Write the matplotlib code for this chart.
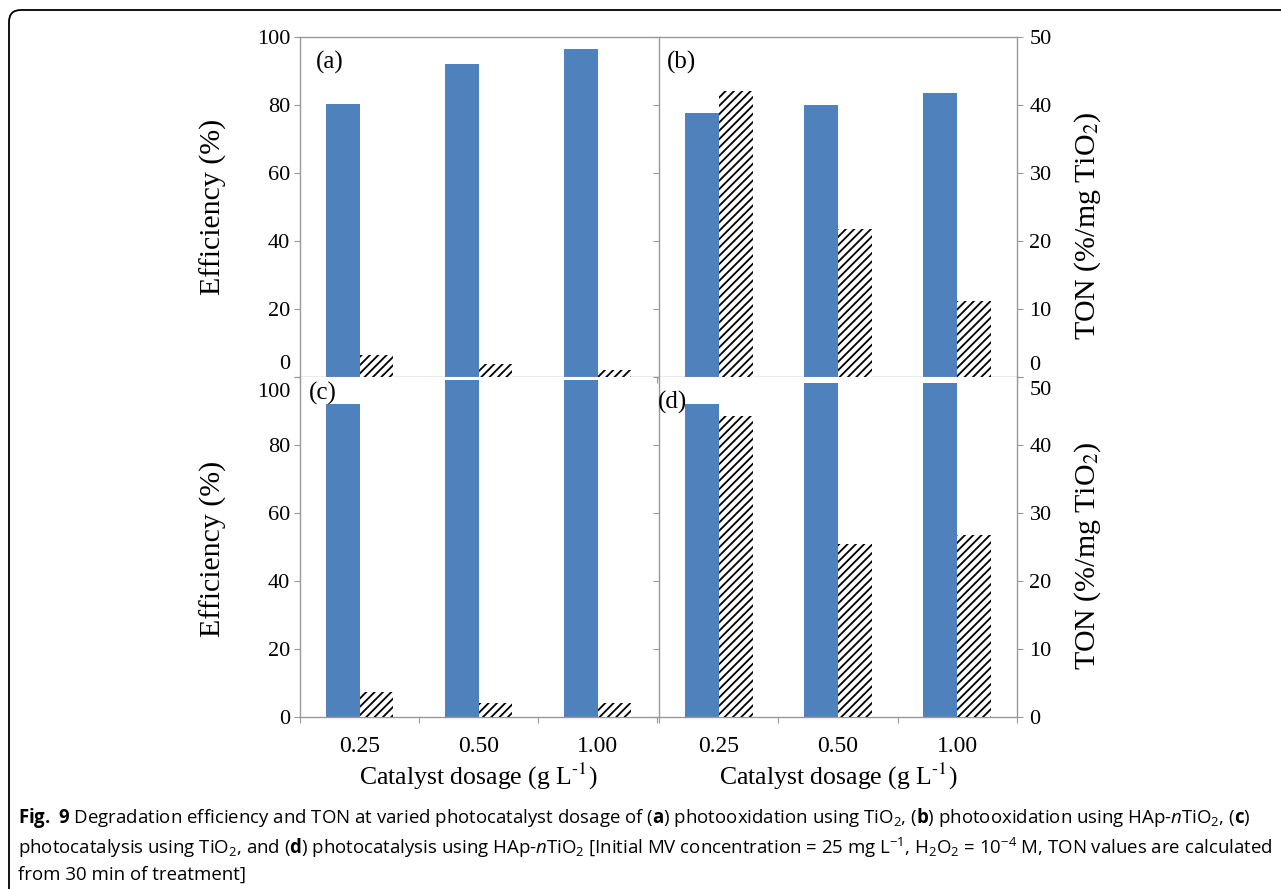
import numpy as np
import matplotlib.pyplot as plt
from matplotlib.patches import FancyBboxPatch
from matplotlib.transforms import ScaledTranslation, IdentityTransform

plt.rcParams['font.family'] = ['Liberation Serif', 'DejaVu Serif']
plt.rcParams['hatch.linewidth'] = 1.3
plt.rcParams['mathtext.rm'] = 'Open Sans'
plt.rcParams['mathtext.it'] = 'Open Sans:italic'
plt.rcParams['mathtext.bf'] = 'Open Sans:bold'

# catalyst dosage (g/L) and results for each panel
dosage = ['0.25', '0.50', '1.00']
eff_a = [80.3, 92.0, 96.5]
ton_a = [3.2, 1.9, 1.0]
eff_b = [77.6, 80.0, 83.5]
ton_b = [42.0, 21.8, 11.2]
eff_c = [92.0, 99.2, 99.2]
ton_c = [3.7, 2.1, 2.1]
eff_d = [92.0, 98.3, 98.3]
ton_d = [44.3, 25.4, 26.8]
tags = ['(a)', '(b)', '(c)', '(d)']

eff_ticks = [0, 20, 40, 60, 80, 100]
ton_ticks = [0, 10, 20, 30, 40, 50]

W, H = 1281, 889
fig = plt.figure(figsize=(W / 100, H / 100), dpi=100)

blue = '#4F81BD'
axis_gray = '#999999'
bw = 0.285
x = np.arange(len(dosage))


def add_ax(x0, y0, x1, y1):
    return fig.add_axes([x0 / W, 1 - y1 / H, (x1 - x0) / W, (y1 - y0) / H])


def shift_label(lbl, dy_px):
    lbl.set_transform(lbl.get_transform() + ScaledTranslation(0, dy_px / 100, fig.dpi_scale_trans))


boxes = [(300, 37, 657, 377), (659, 37, 1017, 377),
         (300, 377, 657, 717), (659, 377, 1017, 717)]
effs = [eff_a, eff_b, eff_c, eff_d]
tons = [ton_a, ton_b, ton_c, ton_d]
tag_pos = [(316, 62), (667, 62), (309, 393), (658, 402)]

for i in range(4):
    ax = add_ax(*boxes[i])
    tw = ax.twinx()
    left = i in (0, 2)
    top = i in (0, 1)

    ax.bar(x - bw / 2, effs[i], bw, color=blue, edgecolor='none', zorder=2)
    tw.bar(x + bw / 2, tons[i], bw, facecolor='white', edgecolor='black',
           linewidth=0, hatch='////', zorder=2)

    ax.set_xlim(-0.5, 2.5)
    ax.set_ylim(0, 100)
    tw.set_ylim(0, 50)

    for s in ax.spines.values():
        s.set_color(axis_gray)
        s.set_linewidth(1.0)
    for s in tw.spines.values():
        s.set_visible(False)
    ax.spines['right'].set_visible(False)
    ax.spines['top'].set_visible(top)

    # category boundaries get the tick marks, centres get the labels
    ax.set_xticks([-0.5, 0.5, 1.5, 2.5])
    ax.set_xticklabels([])
    ax.set_xticks(x, minor=True)
    ax.tick_params(axis='x', which='major', direction='out', length=4,
                   color=axis_gray, width=0.8)
    ax.tick_params(axis='x', which='minor', length=0, pad=14, labelsize=17)
    if top:
        ax.set_xticklabels([], minor=True)
    else:
        ax.set_xticklabels(dosage, minor=True)
        ax.set_xlabel(r'Catalyst dosage (g L$^{\text{-1}}$)', fontsize=18.5,
                      va='center', math_fontfamily='stix')
        ax.xaxis.set_label_coords(0.5, -(776 - 717) / 340)

    ax.set_yticks(eff_ticks)
    ax.tick_params(axis='y', direction='out', length=4, color=axis_gray,
                   width=0.8, pad=3, labelsize=16)
    tw.set_yticks(ton_ticks)
    tw.tick_params(axis='y', direction='out', length=4, color=axis_gray,
                   width=0.8, pad=5, labelsize=16)

    if left:
        tw.set_yticks([])
        ax.set_ylabel('Efficiency (%)', fontsize=21.5, va='center')
        ax.yaxis.set_label_coords((213 - 300) / 357, 0.5 if top else 0.494)
    else:
        ax.set_yticklabels([])
        tw.spines['right'].set_visible(True)
        tw.spines['right'].set_color(axis_gray)
        tw.spines['right'].set_linewidth(1.0)
        tw.set_ylabel(r'TON (%/mg TiO$_{\text{2}}$)', fontsize=21.5,
                      va='center', math_fontfamily='stix')
        tw.yaxis.set_label_coords((1088 - 659) / 358, 0.444 if top else 0.474)

    # keep the end labels from colliding where the panels meet
    if left and top:
        shift_label(ax.get_yticklabels()[0], 15)
    if left and not top:
        shift_label(ax.get_yticklabels()[-1], -13)
    if not left and top:
        shift_label(tw.get_yticklabels()[0], 14)
    if not left and not top:
        shift_label(tw.get_yticklabels()[-1], -11)

    tx, ty = tag_pos[i]
    fig.text(tx / W, 1 - ty / H, tags[i], fontsize=18, ha='left', va='center')

# rounded frame around figure and caption
frame = FancyBboxPatch((9, -30), 1320, 889 - 10 + 30,
                       boxstyle='round,pad=0,rounding_size=12',
                       transform=IdentityTransform(), facecolor='none',
                       edgecolor='black', linewidth=1.3)
fig.patches.append(frame)

cap = [
    r'$\mathbf{Fig.\ 9}$ Degradation efficiency and TON at varied photocatalyst dosage of '
    r'($\mathbf{a}$) photooxidation using TiO$_2$, ($\mathbf{b}$) photooxidation using '
    r'HAp-$n$TiO$_2$, ($\mathbf{c}$)',
    r'photocatalysis using TiO$_2$, and ($\mathbf{d}$) photocatalysis using HAp-$n$TiO$_2$ '
    r'[Initial MV concentration = 25 mg L$^{-1}$, H$_2$O$_2$ = 10$^{-4}$ M, TON values are calculated',
    'from 30 min of treatment]',
]
for k, line in enumerate(cap):
    fig.text(18 / W, 1 - [818, 848, 875][k] / H, line, fontsize=13.4,
             family=['Open Sans', 'DejaVu Sans'], math_fontfamily='custom',
             ha='left', va='center')

fig.savefig('out.png', dpi=100)
